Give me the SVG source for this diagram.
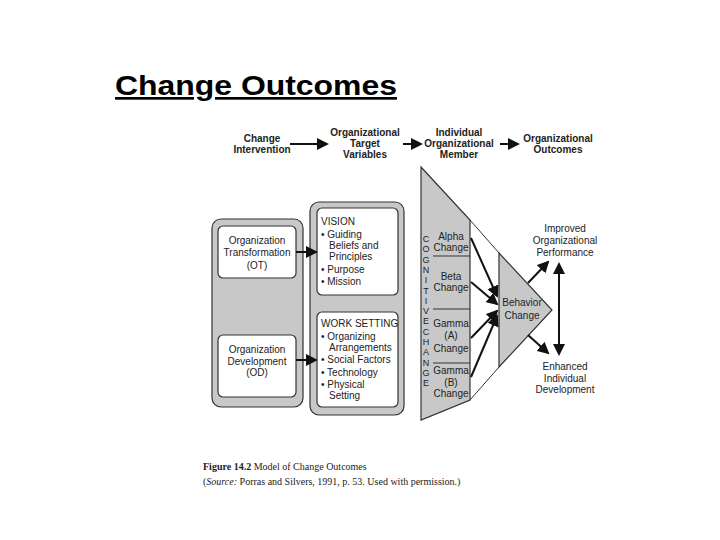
<svg xmlns="http://www.w3.org/2000/svg" width="720" height="540" viewBox="0 0 720 540">
<style>
text{font-family:"Liberation Sans",Arial,sans-serif;font-size:10px;fill:#222}
.c{text-anchor:middle}
.h{font-weight:bold}
.g{fill:#c8c8c8;stroke:#333;stroke-width:1.2}
.w{fill:#fff;stroke:#333;stroke-width:1.2}
.a{stroke:#111;stroke-width:2;fill:none;marker-end:url(#ar)}
.ln{stroke:#333;stroke-width:1;fill:none}
.cap{font-family:"Liberation Serif","Times New Roman",serif;font-size:10px}
</style>
<defs><marker id="ar" markerWidth="6" markerHeight="6" refX="5" refY="3" orient="auto" markerUnits="strokeWidth"><path d="M0,0L6,3L0,6z" fill="#111"/></marker>
<marker id="ar2" markerWidth="6" markerHeight="6" refX="5" refY="3" orient="auto-start-reverse" markerUnits="strokeWidth"><path d="M0,0L6,3L0,6z" fill="#111"/></marker></defs>
<rect width="720" height="540" fill="#fff"/>
<text x="115" y="95" textLength="282" lengthAdjust="spacingAndGlyphs" style="font-size:27px;font-weight:bold;text-decoration:underline;fill:#000">Change Outcomes</text>
<g id="header">
<text class="c h" x="262" y="142">Change</text><text class="c h" x="262" y="153">Intervention</text>
<text class="c h" x="365" y="136">Organizational</text><text class="c h" x="365" y="147">Target</text><text class="c h" x="365" y="158">Variables</text>
<text class="c h" x="459" y="136">Individual</text><text class="c h" x="459" y="147">Organizational</text><text class="c h" x="459" y="158">Member</text>
<text class="c h" x="558" y="142">Organizational</text><text class="c h" x="558" y="153">Outcomes</text>
</g>
<g id="left">
<rect class="g" x="212" y="219" width="91" height="188" rx="9"/>
<rect class="w" x="218" y="226" width="78" height="52" rx="5"/>
<text class="c" x="257" y="244">Organization</text><text class="c" x="257" y="256">Transformation</text><text class="c" x="257" y="269">(OT)</text>
<rect class="w" x="218" y="335" width="78" height="62" rx="5"/>
<text class="c" x="257" y="353">Organization</text><text class="c" x="257" y="365">Development</text><text class="c" x="257" y="376">(OD)</text>
</g>
<g id="targets">
<rect class="g" x="310" y="202" width="94" height="213" rx="9"/>
<rect class="w" x="317" y="208" width="81" height="87" rx="5"/>
<text x="321" y="225">VISION</text><text x="321" y="238">• Guiding</text><text x="329" y="249">Beliefs and</text><text x="329" y="260">Principles</text><text x="321" y="273">• Purpose</text><text x="321" y="285">• Mission</text>
<rect class="w" x="317" y="312" width="81" height="95" rx="5"/>
<text x="321" y="327">WORK SETTING</text><text x="321" y="340">• Organizing</text><text x="329" y="351">Arrangements</text><text x="321" y="363">• Social Factors</text><text x="321" y="376">• Technology</text><text x="321" y="388">• Physical</text><text x="329" y="399">Setting</text>
</g>
<g id="member">
<polygon class="g" points="421,167 470,220 470,400 421,420"/>
<line class="ln" x1="470" y1="220" x2="499" y2="253"/>
<line class="ln" x1="470" y1="400" x2="499" y2="367"/>
<line class="ln" x1="433" y1="256" x2="470" y2="256"/>
<line class="ln" x1="433" y1="309" x2="470" y2="309"/>
<line class="ln" x1="433" y1="363" x2="470" y2="363"/>
<text class="c" x="426" y="242" style="font-size:9px"><tspan x="426">C</tspan><tspan x="426" dy="10.3">O</tspan><tspan x="426" dy="10.3">G</tspan><tspan x="426" dy="10.3">N</tspan><tspan x="426" dy="10.3">I</tspan><tspan x="426" dy="10.3">T</tspan><tspan x="426" dy="10.3">I</tspan><tspan x="426" dy="10.3">V</tspan><tspan x="426" dy="10.3">E</tspan><tspan x="426" dy="10.3">C</tspan><tspan x="426" dy="10.3">H</tspan><tspan x="426" dy="10.3">A</tspan><tspan x="426" dy="10.3">N</tspan><tspan x="426" dy="10.3">G</tspan><tspan x="426" dy="10.3">E</tspan></text>
<text class="c" x="451" y="240">Alpha</text><text class="c" x="451" y="251">Change</text>
<text class="c" x="451" y="280">Beta</text><text class="c" x="451" y="291">Change</text>
<text class="c" x="451" y="327">Gamma</text><text class="c" x="451" y="339">(A)</text><text class="c" x="451" y="352">Change</text>
<text class="c" x="451" y="374">Gamma</text><text class="c" x="451" y="386">(B)</text><text class="c" x="451" y="397">Change</text>
<polygon class="g" points="499,253 552,310 499,367"/>
<text class="c" x="522" y="306">Behavior</text><text class="c" x="522" y="319">Change</text>
</g>
<g id="outcomes">
<text class="c" x="565" y="232">Improved</text><text class="c" x="565" y="244">Organizational</text><text class="c" x="565" y="256">Performance</text>
<text class="c" x="565" y="370">Enhanced</text><text class="c" x="565" y="382">Individual</text><text class="c" x="565" y="393">Development</text>
</g>
<g id="connectors">
<line class="a" x1="290" y1="144" x2="327" y2="144"/>
<line class="a" x1="403" y1="144" x2="421" y2="144"/>
<line class="a" x1="500" y1="144" x2="518" y2="144"/>
<line class="a" x1="296" y1="252" x2="316" y2="252"/>
<line class="a" x1="296" y1="360" x2="316" y2="360"/>
<line class="a" x1="471" y1="238" x2="497" y2="296"/>
<line class="a" x1="471" y1="282" x2="497" y2="304"/>
<line class="a" x1="471" y1="338" x2="497" y2="311"/>
<line class="a" x1="471" y1="377" x2="497" y2="316"/>
<line class="a" x1="528" y1="283" x2="548" y2="262"/>
<line class="a" x1="528" y1="335" x2="548" y2="353"/>
<line class="a" x1="559" y1="264" x2="559" y2="354" marker-start="url(#ar2)" marker-end="url(#ar2)"/>
</g>
<text class="cap" x="203" y="470"><tspan font-weight="bold">Figure 14.2</tspan>  Model of Change Outcomes</text>
<text class="cap" x="203" y="485">(<tspan font-style="italic">Source:</tspan> Porras and Silvers, 1991, p. 53. Used with permission.)</text>
</svg>
